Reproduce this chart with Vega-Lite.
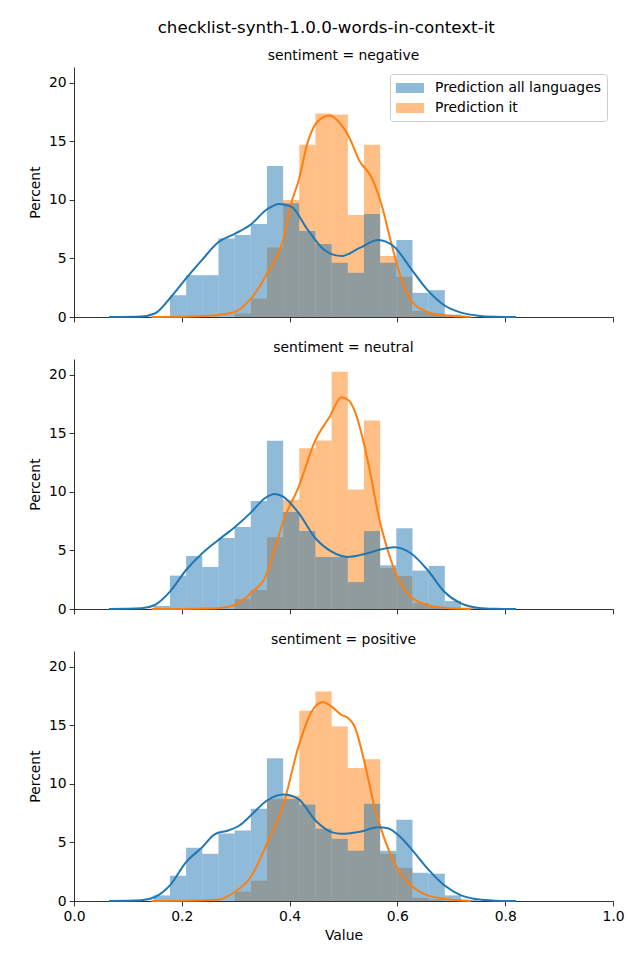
{
  "$schema": "https://vega.github.io/schema/vega-lite/v6.json",
  "padding": {"left": 28, "top": 20, "right": 26, "bottom": 10},
  "title": {"text": "checklist-synth-1.0.0-words-in-context-it", "font": "DejaVu Sans", "fontSize": 16.7, "fontWeight": "normal", "color": "#000", "anchor": "middle", "offset": 12},
  "spacing": 17,
  "resolve": {"legend": {"color": "independent"}},
  "config": {
    "view": {"stroke": null},
    "font": "DejaVu Sans",
    "axis": {"domainColor": "#000", "domainWidth": 0.8, "tickColor": "#000", "tickWidth": 0.8, "tickSize": 4.9, "labelFont": "DejaVu Sans", "labelFontSize": 13.9, "labelColor": "#000", "labelPadding": 3, "titleFont": "DejaVu Sans", "titleFontSize": 13.9, "titleFontWeight": "normal", "titleColor": "#000", "grid": false, "labelFlush": false},
    "title": {"font": "DejaVu Sans", "fontSize": 13.9, "fontWeight": "normal", "color": "#000", "offset": 4},
    "legend": {"orient": "top-right", "offset": 6.5, "symbolType": "M-1,-0.625H2.5V0.625H-1Z", "symbolSize": 256, "symbolOpacity": 0.5, "symbolStrokeWidth": 0, "labelFont": "DejaVu Sans", "labelFontSize": 13.9, "labelColor": "#000", "labelOffset": 23, "padding": 6, "rowPadding": 5, "fillColor": "rgba(255,255,255,0.8)", "strokeColor": "#cccccc", "cornerRadius": 3, "labelLimit": 400}
  },
  "datasets": {
    "hist": [
      {"sentiment": "negative", "series": "Prediction all languages", "bin_start": 0.178, "bin_end": 0.208, "percent": 1.86},
      {"sentiment": "negative", "series": "Prediction all languages", "bin_start": 0.208, "bin_end": 0.238, "percent": 3.57},
      {"sentiment": "negative", "series": "Prediction all languages", "bin_start": 0.238, "bin_end": 0.268, "percent": 3.57},
      {"sentiment": "negative", "series": "Prediction all languages", "bin_start": 0.268, "bin_end": 0.298, "percent": 6.71},
      {"sentiment": "negative", "series": "Prediction all languages", "bin_start": 0.298, "bin_end": 0.328, "percent": 7.0},
      {"sentiment": "negative", "series": "Prediction all languages", "bin_start": 0.328, "bin_end": 0.358, "percent": 7.94},
      {"sentiment": "negative", "series": "Prediction all languages", "bin_start": 0.358, "bin_end": 0.388, "percent": 12.9},
      {"sentiment": "negative", "series": "Prediction all languages", "bin_start": 0.388, "bin_end": 0.418, "percent": 9.71},
      {"sentiment": "negative", "series": "Prediction all languages", "bin_start": 0.418, "bin_end": 0.448, "percent": 7.34},
      {"sentiment": "negative", "series": "Prediction all languages", "bin_start": 0.448, "bin_end": 0.478, "percent": 6.23},
      {"sentiment": "negative", "series": "Prediction all languages", "bin_start": 0.478, "bin_end": 0.508, "percent": 4.63},
      {"sentiment": "negative", "series": "Prediction all languages", "bin_start": 0.508, "bin_end": 0.538, "percent": 3.77},
      {"sentiment": "negative", "series": "Prediction all languages", "bin_start": 0.538, "bin_end": 0.568, "percent": 8.8},
      {"sentiment": "negative", "series": "Prediction all languages", "bin_start": 0.568, "bin_end": 0.598, "percent": 4.63},
      {"sentiment": "negative", "series": "Prediction all languages", "bin_start": 0.598, "bin_end": 0.628, "percent": 6.57},
      {"sentiment": "negative", "series": "Prediction all languages", "bin_start": 0.628, "bin_end": 0.658, "percent": 2.06},
      {"sentiment": "negative", "series": "Prediction all languages", "bin_start": 0.658, "bin_end": 0.688, "percent": 2.29},
      {"sentiment": "negative", "series": "Prediction all languages", "bin_start": 0.688, "bin_end": 0.718, "percent": 0.2},
      {"sentiment": "negative", "series": "Prediction it", "bin_start": 0.298, "bin_end": 0.328, "percent": 0.3},
      {"sentiment": "negative", "series": "Prediction it", "bin_start": 0.328, "bin_end": 0.358, "percent": 1.57},
      {"sentiment": "negative", "series": "Prediction it", "bin_start": 0.358, "bin_end": 0.388, "percent": 5.94},
      {"sentiment": "negative", "series": "Prediction it", "bin_start": 0.388, "bin_end": 0.418, "percent": 10.0},
      {"sentiment": "negative", "series": "Prediction it", "bin_start": 0.418, "bin_end": 0.448, "percent": 14.7},
      {"sentiment": "negative", "series": "Prediction it", "bin_start": 0.448, "bin_end": 0.478, "percent": 17.37},
      {"sentiment": "negative", "series": "Prediction it", "bin_start": 0.478, "bin_end": 0.508, "percent": 17.29},
      {"sentiment": "negative", "series": "Prediction it", "bin_start": 0.508, "bin_end": 0.538, "percent": 8.71},
      {"sentiment": "negative", "series": "Prediction it", "bin_start": 0.538, "bin_end": 0.568, "percent": 14.7},
      {"sentiment": "negative", "series": "Prediction it", "bin_start": 0.568, "bin_end": 0.598, "percent": 5.2},
      {"sentiment": "negative", "series": "Prediction it", "bin_start": 0.598, "bin_end": 0.628, "percent": 3.43},
      {"sentiment": "negative", "series": "Prediction it", "bin_start": 0.628, "bin_end": 0.658, "percent": 0.51},
      {"sentiment": "negative", "series": "Prediction it", "bin_start": 0.658, "bin_end": 0.688, "percent": 0.29},
      {"sentiment": "neutral", "series": "Prediction all languages", "bin_start": 0.148, "bin_end": 0.178, "percent": 0.26},
      {"sentiment": "neutral", "series": "Prediction all languages", "bin_start": 0.178, "bin_end": 0.208, "percent": 2.85},
      {"sentiment": "neutral", "series": "Prediction all languages", "bin_start": 0.208, "bin_end": 0.238, "percent": 4.53},
      {"sentiment": "neutral", "series": "Prediction all languages", "bin_start": 0.238, "bin_end": 0.268, "percent": 3.59},
      {"sentiment": "neutral", "series": "Prediction all languages", "bin_start": 0.268, "bin_end": 0.298, "percent": 6.07},
      {"sentiment": "neutral", "series": "Prediction all languages", "bin_start": 0.298, "bin_end": 0.328, "percent": 7.0},
      {"sentiment": "neutral", "series": "Prediction all languages", "bin_start": 0.328, "bin_end": 0.358, "percent": 9.23},
      {"sentiment": "neutral", "series": "Prediction all languages", "bin_start": 0.358, "bin_end": 0.388, "percent": 14.36},
      {"sentiment": "neutral", "series": "Prediction all languages", "bin_start": 0.388, "bin_end": 0.418, "percent": 8.29},
      {"sentiment": "neutral", "series": "Prediction all languages", "bin_start": 0.418, "bin_end": 0.448, "percent": 6.67},
      {"sentiment": "neutral", "series": "Prediction all languages", "bin_start": 0.448, "bin_end": 0.478, "percent": 4.44},
      {"sentiment": "neutral", "series": "Prediction all languages", "bin_start": 0.478, "bin_end": 0.508, "percent": 4.44},
      {"sentiment": "neutral", "series": "Prediction all languages", "bin_start": 0.508, "bin_end": 0.538, "percent": 2.3},
      {"sentiment": "neutral", "series": "Prediction all languages", "bin_start": 0.538, "bin_end": 0.568, "percent": 6.67},
      {"sentiment": "neutral", "series": "Prediction all languages", "bin_start": 0.568, "bin_end": 0.598, "percent": 3.73},
      {"sentiment": "neutral", "series": "Prediction all languages", "bin_start": 0.598, "bin_end": 0.628, "percent": 6.9},
      {"sentiment": "neutral", "series": "Prediction all languages", "bin_start": 0.628, "bin_end": 0.658, "percent": 3.28},
      {"sentiment": "neutral", "series": "Prediction all languages", "bin_start": 0.658, "bin_end": 0.688, "percent": 3.68},
      {"sentiment": "neutral", "series": "Prediction all languages", "bin_start": 0.688, "bin_end": 0.718, "percent": 0.68},
      {"sentiment": "neutral", "series": "Prediction all languages", "bin_start": 0.718, "bin_end": 0.748, "percent": 0.1},
      {"sentiment": "neutral", "series": "Prediction it", "bin_start": 0.298, "bin_end": 0.328, "percent": 0.85},
      {"sentiment": "neutral", "series": "Prediction it", "bin_start": 0.328, "bin_end": 0.358, "percent": 1.62},
      {"sentiment": "neutral", "series": "Prediction it", "bin_start": 0.358, "bin_end": 0.388, "percent": 6.13},
      {"sentiment": "neutral", "series": "Prediction it", "bin_start": 0.388, "bin_end": 0.418, "percent": 9.32},
      {"sentiment": "neutral", "series": "Prediction it", "bin_start": 0.418, "bin_end": 0.448, "percent": 13.73},
      {"sentiment": "neutral", "series": "Prediction it", "bin_start": 0.448, "bin_end": 0.478, "percent": 14.39},
      {"sentiment": "neutral", "series": "Prediction it", "bin_start": 0.478, "bin_end": 0.508, "percent": 20.26},
      {"sentiment": "neutral", "series": "Prediction it", "bin_start": 0.508, "bin_end": 0.538, "percent": 10.2},
      {"sentiment": "neutral", "series": "Prediction it", "bin_start": 0.538, "bin_end": 0.568, "percent": 16.1},
      {"sentiment": "neutral", "series": "Prediction it", "bin_start": 0.568, "bin_end": 0.598, "percent": 3.5},
      {"sentiment": "neutral", "series": "Prediction it", "bin_start": 0.598, "bin_end": 0.628, "percent": 2.82},
      {"sentiment": "neutral", "series": "Prediction it", "bin_start": 0.628, "bin_end": 0.658, "percent": 0.5},
      {"sentiment": "neutral", "series": "Prediction it", "bin_start": 0.658, "bin_end": 0.688, "percent": 0.2},
      {"sentiment": "positive", "series": "Prediction all languages", "bin_start": 0.148, "bin_end": 0.178, "percent": 0.48},
      {"sentiment": "positive", "series": "Prediction all languages", "bin_start": 0.178, "bin_end": 0.208, "percent": 2.16},
      {"sentiment": "positive", "series": "Prediction all languages", "bin_start": 0.208, "bin_end": 0.238, "percent": 4.55},
      {"sentiment": "positive", "series": "Prediction all languages", "bin_start": 0.238, "bin_end": 0.268, "percent": 4.03},
      {"sentiment": "positive", "series": "Prediction all languages", "bin_start": 0.268, "bin_end": 0.298, "percent": 5.77},
      {"sentiment": "positive", "series": "Prediction all languages", "bin_start": 0.298, "bin_end": 0.328, "percent": 6.02},
      {"sentiment": "positive", "series": "Prediction all languages", "bin_start": 0.328, "bin_end": 0.358, "percent": 7.87},
      {"sentiment": "positive", "series": "Prediction all languages", "bin_start": 0.358, "bin_end": 0.388, "percent": 12.2},
      {"sentiment": "positive", "series": "Prediction all languages", "bin_start": 0.388, "bin_end": 0.418, "percent": 8.72},
      {"sentiment": "positive", "series": "Prediction all languages", "bin_start": 0.418, "bin_end": 0.448, "percent": 8.24},
      {"sentiment": "positive", "series": "Prediction all languages", "bin_start": 0.448, "bin_end": 0.478, "percent": 6.16},
      {"sentiment": "positive", "series": "Prediction all languages", "bin_start": 0.478, "bin_end": 0.508, "percent": 5.31},
      {"sentiment": "positive", "series": "Prediction all languages", "bin_start": 0.508, "bin_end": 0.538, "percent": 4.29},
      {"sentiment": "positive", "series": "Prediction all languages", "bin_start": 0.538, "bin_end": 0.568, "percent": 8.3},
      {"sentiment": "positive", "series": "Prediction all languages", "bin_start": 0.568, "bin_end": 0.598, "percent": 4.29},
      {"sentiment": "positive", "series": "Prediction all languages", "bin_start": 0.598, "bin_end": 0.628, "percent": 6.93},
      {"sentiment": "positive", "series": "Prediction all languages", "bin_start": 0.628, "bin_end": 0.658, "percent": 2.41},
      {"sentiment": "positive", "series": "Prediction all languages", "bin_start": 0.658, "bin_end": 0.688, "percent": 2.33},
      {"sentiment": "positive", "series": "Prediction all languages", "bin_start": 0.688, "bin_end": 0.718, "percent": 0.48},
      {"sentiment": "positive", "series": "Prediction all languages", "bin_start": 0.718, "bin_end": 0.748, "percent": 0.1},
      {"sentiment": "positive", "series": "Prediction it", "bin_start": 0.298, "bin_end": 0.328, "percent": 0.8},
      {"sentiment": "positive", "series": "Prediction it", "bin_start": 0.328, "bin_end": 0.358, "percent": 1.73},
      {"sentiment": "positive", "series": "Prediction it", "bin_start": 0.358, "bin_end": 0.388, "percent": 8.72},
      {"sentiment": "positive", "series": "Prediction it", "bin_start": 0.388, "bin_end": 0.418, "percent": 9.0},
      {"sentiment": "positive", "series": "Prediction it", "bin_start": 0.418, "bin_end": 0.448, "percent": 16.25},
      {"sentiment": "positive", "series": "Prediction it", "bin_start": 0.448, "bin_end": 0.478, "percent": 17.9},
      {"sentiment": "positive", "series": "Prediction it", "bin_start": 0.478, "bin_end": 0.508, "percent": 14.9},
      {"sentiment": "positive", "series": "Prediction it", "bin_start": 0.508, "bin_end": 0.538, "percent": 11.36},
      {"sentiment": "positive", "series": "Prediction it", "bin_start": 0.538, "bin_end": 0.568, "percent": 12.1},
      {"sentiment": "positive", "series": "Prediction it", "bin_start": 0.568, "bin_end": 0.598, "percent": 4.03},
      {"sentiment": "positive", "series": "Prediction it", "bin_start": 0.598, "bin_end": 0.628, "percent": 2.84},
      {"sentiment": "positive", "series": "Prediction it", "bin_start": 0.628, "bin_end": 0.658, "percent": 0.28},
      {"sentiment": "positive", "series": "Prediction it", "bin_start": 0.658, "bin_end": 0.688, "percent": 0.14}
    ],
    "kde": [
      {"sentiment": "negative", "series": "all", "x": 0.065, "y": 0}, {"sentiment": "negative", "series": "all", "x": 0.125, "y": 0.05}, {"sentiment": "negative", "series": "all", "x": 0.15, "y": 0.3}, {"sentiment": "negative", "series": "all", "x": 0.178, "y": 1.6}, {"sentiment": "negative", "series": "all", "x": 0.208, "y": 3.3}, {"sentiment": "negative", "series": "all", "x": 0.238, "y": 4.9}, {"sentiment": "negative", "series": "all", "x": 0.268, "y": 6.4}, {"sentiment": "negative", "series": "all", "x": 0.298, "y": 7.1}, {"sentiment": "negative", "series": "all", "x": 0.328, "y": 7.9}, {"sentiment": "negative", "series": "all", "x": 0.358, "y": 9.2}, {"sentiment": "negative", "series": "all", "x": 0.381, "y": 9.66}, {"sentiment": "negative", "series": "all", "x": 0.403, "y": 9.43}, {"sentiment": "negative", "series": "all", "x": 0.434, "y": 7.43}, {"sentiment": "negative", "series": "all", "x": 0.465, "y": 5.7}, {"sentiment": "negative", "series": "all", "x": 0.496, "y": 5.2}, {"sentiment": "negative", "series": "all", "x": 0.53, "y": 5.9}, {"sentiment": "negative", "series": "all", "x": 0.564, "y": 6.57}, {"sentiment": "negative", "series": "all", "x": 0.594, "y": 6.0}, {"sentiment": "negative", "series": "all", "x": 0.625, "y": 4.14}, {"sentiment": "negative", "series": "all", "x": 0.656, "y": 2.29}, {"sentiment": "negative", "series": "all", "x": 0.687, "y": 1.0}, {"sentiment": "negative", "series": "all", "x": 0.718, "y": 0.37}, {"sentiment": "negative", "series": "all", "x": 0.749, "y": 0.11}, {"sentiment": "negative", "series": "all", "x": 0.78, "y": 0.02}, {"sentiment": "negative", "series": "all", "x": 0.82, "y": 0},
      {"sentiment": "negative", "series": "it", "x": 0.144, "y": 0}, {"sentiment": "negative", "series": "it", "x": 0.2, "y": 0.02}, {"sentiment": "negative", "series": "it", "x": 0.249, "y": 0.1}, {"sentiment": "negative", "series": "it", "x": 0.298, "y": 0.43}, {"sentiment": "negative", "series": "it", "x": 0.328, "y": 1.57}, {"sentiment": "negative", "series": "it", "x": 0.358, "y": 3.7}, {"sentiment": "negative", "series": "it", "x": 0.388, "y": 6.57}, {"sentiment": "negative", "series": "it", "x": 0.403, "y": 9.7}, {"sentiment": "negative", "series": "it", "x": 0.417, "y": 11.7}, {"sentiment": "negative", "series": "it", "x": 0.434, "y": 15.0}, {"sentiment": "negative", "series": "it", "x": 0.452, "y": 16.7}, {"sentiment": "negative", "series": "it", "x": 0.474, "y": 17.2}, {"sentiment": "negative", "series": "it", "x": 0.496, "y": 16.4}, {"sentiment": "negative", "series": "it", "x": 0.51, "y": 15.4}, {"sentiment": "negative", "series": "it", "x": 0.53, "y": 13.3}, {"sentiment": "negative", "series": "it", "x": 0.551, "y": 12.0}, {"sentiment": "negative", "series": "it", "x": 0.57, "y": 9.7}, {"sentiment": "negative", "series": "it", "x": 0.588, "y": 6.43}, {"sentiment": "negative", "series": "it", "x": 0.606, "y": 3.43}, {"sentiment": "negative", "series": "it", "x": 0.625, "y": 1.43}, {"sentiment": "negative", "series": "it", "x": 0.656, "y": 0.43}, {"sentiment": "negative", "series": "it", "x": 0.687, "y": 0.14}, {"sentiment": "negative", "series": "it", "x": 0.736, "y": 0},
      {"sentiment": "neutral", "series": "all", "x": 0.065, "y": 0}, {"sentiment": "neutral", "series": "all", "x": 0.125, "y": 0.06}, {"sentiment": "neutral", "series": "all", "x": 0.15, "y": 0.34}, {"sentiment": "neutral", "series": "all", "x": 0.178, "y": 1.48}, {"sentiment": "neutral", "series": "all", "x": 0.208, "y": 3.33}, {"sentiment": "neutral", "series": "all", "x": 0.238, "y": 4.76}, {"sentiment": "neutral", "series": "all", "x": 0.268, "y": 5.9}, {"sentiment": "neutral", "series": "all", "x": 0.298, "y": 6.98}, {"sentiment": "neutral", "series": "all", "x": 0.328, "y": 8.23}, {"sentiment": "neutral", "series": "all", "x": 0.354, "y": 9.46}, {"sentiment": "neutral", "series": "all", "x": 0.372, "y": 9.83}, {"sentiment": "neutral", "series": "all", "x": 0.388, "y": 9.6}, {"sentiment": "neutral", "series": "all", "x": 0.417, "y": 8.18}, {"sentiment": "neutral", "series": "all", "x": 0.448, "y": 6.04}, {"sentiment": "neutral", "series": "all", "x": 0.478, "y": 4.9}, {"sentiment": "neutral", "series": "all", "x": 0.508, "y": 4.45}, {"sentiment": "neutral", "series": "all", "x": 0.539, "y": 4.7}, {"sentiment": "neutral", "series": "all", "x": 0.57, "y": 5.1}, {"sentiment": "neutral", "series": "all", "x": 0.594, "y": 5.27}, {"sentiment": "neutral", "series": "all", "x": 0.625, "y": 4.76}, {"sentiment": "neutral", "series": "all", "x": 0.656, "y": 3.33}, {"sentiment": "neutral", "series": "all", "x": 0.687, "y": 1.48}, {"sentiment": "neutral", "series": "all", "x": 0.718, "y": 0.48}, {"sentiment": "neutral", "series": "all", "x": 0.749, "y": 0.11}, {"sentiment": "neutral", "series": "all", "x": 0.78, "y": 0.02}, {"sentiment": "neutral", "series": "all", "x": 0.82, "y": 0},
      {"sentiment": "neutral", "series": "it", "x": 0.144, "y": 0}, {"sentiment": "neutral", "series": "it", "x": 0.2, "y": 0.01}, {"sentiment": "neutral", "series": "it", "x": 0.267, "y": 0.06}, {"sentiment": "neutral", "series": "it", "x": 0.298, "y": 0.34}, {"sentiment": "neutral", "series": "it", "x": 0.328, "y": 1.34}, {"sentiment": "neutral", "series": "it", "x": 0.358, "y": 3.05}, {"sentiment": "neutral", "series": "it", "x": 0.372, "y": 5.04}, {"sentiment": "neutral", "series": "it", "x": 0.388, "y": 7.46}, {"sentiment": "neutral", "series": "it", "x": 0.417, "y": 10.46}, {"sentiment": "neutral", "series": "it", "x": 0.448, "y": 14.44}, {"sentiment": "neutral", "series": "it", "x": 0.474, "y": 16.4}, {"sentiment": "neutral", "series": "it", "x": 0.496, "y": 18.09}, {"sentiment": "neutral", "series": "it", "x": 0.51, "y": 17.8}, {"sentiment": "neutral", "series": "it", "x": 0.52, "y": 17.0}, {"sentiment": "neutral", "series": "it", "x": 0.539, "y": 13.9}, {"sentiment": "neutral", "series": "it", "x": 0.551, "y": 11.3}, {"sentiment": "neutral", "series": "it", "x": 0.564, "y": 8.18}, {"sentiment": "neutral", "series": "it", "x": 0.582, "y": 5.04}, {"sentiment": "neutral", "series": "it", "x": 0.597, "y": 3.05}, {"sentiment": "neutral", "series": "it", "x": 0.625, "y": 1.05}, {"sentiment": "neutral", "series": "it", "x": 0.656, "y": 0.34}, {"sentiment": "neutral", "series": "it", "x": 0.687, "y": 0.11}, {"sentiment": "neutral", "series": "it", "x": 0.736, "y": 0},
      {"sentiment": "positive", "series": "all", "x": 0.065, "y": 0}, {"sentiment": "positive", "series": "all", "x": 0.125, "y": 0.06}, {"sentiment": "positive", "series": "all", "x": 0.15, "y": 0.34}, {"sentiment": "positive", "series": "all", "x": 0.178, "y": 1.34}, {"sentiment": "positive", "series": "all", "x": 0.208, "y": 3.32}, {"sentiment": "positive", "series": "all", "x": 0.238, "y": 4.6}, {"sentiment": "positive", "series": "all", "x": 0.261, "y": 5.7}, {"sentiment": "positive", "series": "all", "x": 0.286, "y": 6.02}, {"sentiment": "positive", "series": "all", "x": 0.307, "y": 6.45}, {"sentiment": "positive", "series": "all", "x": 0.328, "y": 7.3}, {"sentiment": "positive", "series": "all", "x": 0.358, "y": 8.58}, {"sentiment": "positive", "series": "all", "x": 0.388, "y": 9.09}, {"sentiment": "positive", "series": "all", "x": 0.416, "y": 8.72}, {"sentiment": "positive", "series": "all", "x": 0.448, "y": 6.88}, {"sentiment": "positive", "series": "all", "x": 0.478, "y": 5.88}, {"sentiment": "positive", "series": "all", "x": 0.496, "y": 5.74}, {"sentiment": "positive", "series": "all", "x": 0.533, "y": 5.94}, {"sentiment": "positive", "series": "all", "x": 0.564, "y": 6.3}, {"sentiment": "positive", "series": "all", "x": 0.582, "y": 6.22}, {"sentiment": "positive", "series": "all", "x": 0.606, "y": 5.45}, {"sentiment": "positive", "series": "all", "x": 0.628, "y": 4.32}, {"sentiment": "positive", "series": "all", "x": 0.656, "y": 2.76}, {"sentiment": "positive", "series": "all", "x": 0.687, "y": 1.34}, {"sentiment": "positive", "series": "all", "x": 0.718, "y": 0.48}, {"sentiment": "positive", "series": "all", "x": 0.749, "y": 0.14}, {"sentiment": "positive", "series": "all", "x": 0.78, "y": 0.03}, {"sentiment": "positive", "series": "all", "x": 0.82, "y": 0},
      {"sentiment": "positive", "series": "it", "x": 0.144, "y": 0}, {"sentiment": "positive", "series": "it", "x": 0.2, "y": 0.02}, {"sentiment": "positive", "series": "it", "x": 0.267, "y": 0.11}, {"sentiment": "positive", "series": "it", "x": 0.298, "y": 0.77}, {"sentiment": "positive", "series": "it", "x": 0.328, "y": 2.05}, {"sentiment": "positive", "series": "it", "x": 0.358, "y": 4.89}, {"sentiment": "positive", "series": "it", "x": 0.388, "y": 8.15}, {"sentiment": "positive", "series": "it", "x": 0.417, "y": 13.27}, {"sentiment": "positive", "series": "it", "x": 0.44, "y": 16.1}, {"sentiment": "positive", "series": "it", "x": 0.462, "y": 17.0}, {"sentiment": "positive", "series": "it", "x": 0.478, "y": 16.6}, {"sentiment": "positive", "series": "it", "x": 0.496, "y": 15.9}, {"sentiment": "positive", "series": "it", "x": 0.508, "y": 15.65}, {"sentiment": "positive", "series": "it", "x": 0.52, "y": 14.97}, {"sentiment": "positive", "series": "it", "x": 0.539, "y": 11.85}, {"sentiment": "positive", "series": "it", "x": 0.557, "y": 8.15}, {"sentiment": "positive", "series": "it", "x": 0.576, "y": 5.3}, {"sentiment": "positive", "series": "it", "x": 0.594, "y": 3.3}, {"sentiment": "positive", "series": "it", "x": 0.625, "y": 1.34}, {"sentiment": "positive", "series": "it", "x": 0.656, "y": 0.48}, {"sentiment": "positive", "series": "it", "x": 0.687, "y": 0.2}, {"sentiment": "positive", "series": "it", "x": 0.736, "y": 0}
    ]
  },
  "vconcat": [
    {
      "width": 539, "height": 250,
      "title": {"text": "sentiment = negative"},
      "layer": [
        {"data": {"name": "hist"}, "transform": [{"filter": "datum.sentiment === 'negative' && datum.series === 'Prediction it'"}],
         "mark": {"type": "rect", "opacity": 0.5, "strokeWidth": 0},
         "encoding": {
           "x": {"field": "bin_start", "type": "quantitative", "scale": {"domain": [0, 1], "nice": false, "zero": false}, "axis": {"values": [0, 0.2, 0.4, 0.6, 0.8, 1], "labels": false, "title": null}},
           "x2": {"field": "bin_end"},
           "y": {"field": "percent", "type": "quantitative", "scale": {"domain": [0, 21.35], "nice": false}, "axis": {"values": [0, 5, 10, 15, 20], "title": "Percent", "titlePadding": 6}},
           "y2": {"datum": 0},
           "color": {"field": "series", "type": "nominal", "scale": {"domain": ["Prediction all languages", "Prediction it"], "range": ["#1f77b4", "#ff7f0e"]}, "legend": {"title": null}}
         }},
        {"data": {"name": "hist"}, "transform": [{"filter": "datum.sentiment === 'negative' && datum.series === 'Prediction all languages'"}],
         "mark": {"type": "rect", "opacity": 0.5, "strokeWidth": 0},
         "encoding": {
           "x": {"field": "bin_start", "type": "quantitative"},
           "x2": {"field": "bin_end"},
           "y": {"field": "percent", "type": "quantitative"},
           "y2": {"datum": 0},
           "color": {"field": "series", "type": "nominal"}
         }},
        {"data": {"name": "kde"}, "transform": [{"filter": "datum.sentiment === 'negative' && datum.series === 'it'"}],
         "mark": {"type": "line", "color": "#ff7f0e", "strokeWidth": 2, "interpolate": "monotone"},
         "encoding": {"x": {"field": "x", "type": "quantitative"}, "y": {"field": "y", "type": "quantitative"}}},
        {"data": {"name": "kde"}, "transform": [{"filter": "datum.sentiment === 'negative' && datum.series === 'all'"}],
         "mark": {"type": "line", "color": "#1f77b4", "strokeWidth": 2, "interpolate": "monotone"},
         "encoding": {"x": {"field": "x", "type": "quantitative"}, "y": {"field": "y", "type": "quantitative"}}}
      ]
    },
    {
      "width": 539, "height": 250,
      "title": {"text": "sentiment = neutral"},
      "layer": [
        {"data": {"name": "hist"}, "transform": [{"filter": "datum.sentiment === 'neutral' && datum.series === 'Prediction it'"}],
         "mark": {"type": "rect", "opacity": 0.5, "strokeWidth": 0},
         "encoding": {
           "x": {"field": "bin_start", "type": "quantitative", "scale": {"domain": [0, 1], "nice": false, "zero": false}, "axis": {"values": [0, 0.2, 0.4, 0.6, 0.8, 1], "labels": false, "title": null}},
           "x2": {"field": "bin_end"},
           "y": {"field": "percent", "type": "quantitative", "scale": {"domain": [0, 21.35], "nice": false}, "axis": {"values": [0, 5, 10, 15, 20], "title": "Percent", "titlePadding": 6}},
           "y2": {"datum": 0},
           "color": {"field": "series", "type": "nominal", "scale": {"domain": ["Prediction all languages", "Prediction it"], "range": ["#1f77b4", "#ff7f0e"]}, "legend": null}
         }},
        {"data": {"name": "hist"}, "transform": [{"filter": "datum.sentiment === 'neutral' && datum.series === 'Prediction all languages'"}],
         "mark": {"type": "rect", "opacity": 0.5, "strokeWidth": 0},
         "encoding": {
           "x": {"field": "bin_start", "type": "quantitative"},
           "x2": {"field": "bin_end"},
           "y": {"field": "percent", "type": "quantitative"},
           "y2": {"datum": 0},
           "color": {"field": "series", "type": "nominal", "legend": null}
         }},
        {"data": {"name": "kde"}, "transform": [{"filter": "datum.sentiment === 'neutral' && datum.series === 'it'"}],
         "mark": {"type": "line", "color": "#ff7f0e", "strokeWidth": 2, "interpolate": "monotone"},
         "encoding": {"x": {"field": "x", "type": "quantitative"}, "y": {"field": "y", "type": "quantitative"}}},
        {"data": {"name": "kde"}, "transform": [{"filter": "datum.sentiment === 'neutral' && datum.series === 'all'"}],
         "mark": {"type": "line", "color": "#1f77b4", "strokeWidth": 2, "interpolate": "monotone"},
         "encoding": {"x": {"field": "x", "type": "quantitative"}, "y": {"field": "y", "type": "quantitative"}}}
      ]
    },
    {
      "width": 539, "height": 250,
      "title": {"text": "sentiment = positive"},
      "layer": [
        {"data": {"name": "hist"}, "transform": [{"filter": "datum.sentiment === 'positive' && datum.series === 'Prediction it'"}],
         "mark": {"type": "rect", "opacity": 0.5, "strokeWidth": 0},
         "encoding": {
           "x": {"field": "bin_start", "type": "quantitative", "scale": {"domain": [0, 1], "nice": false, "zero": false}, "axis": {"values": [0, 0.2, 0.4, 0.6, 0.8, 1], "format": ".1f", "title": "Value", "labelPadding": 4, "titlePadding": 5}},
           "x2": {"field": "bin_end"},
           "y": {"field": "percent", "type": "quantitative", "scale": {"domain": [0, 21.35], "nice": false}, "axis": {"values": [0, 5, 10, 15, 20], "title": "Percent", "titlePadding": 6}},
           "y2": {"datum": 0},
           "color": {"field": "series", "type": "nominal", "scale": {"domain": ["Prediction all languages", "Prediction it"], "range": ["#1f77b4", "#ff7f0e"]}, "legend": null}
         }},
        {"data": {"name": "hist"}, "transform": [{"filter": "datum.sentiment === 'positive' && datum.series === 'Prediction all languages'"}],
         "mark": {"type": "rect", "opacity": 0.5, "strokeWidth": 0},
         "encoding": {
           "x": {"field": "bin_start", "type": "quantitative"},
           "x2": {"field": "bin_end"},
           "y": {"field": "percent", "type": "quantitative"},
           "y2": {"datum": 0},
           "color": {"field": "series", "type": "nominal", "legend": null}
         }},
        {"data": {"name": "kde"}, "transform": [{"filter": "datum.sentiment === 'positive' && datum.series === 'it'"}],
         "mark": {"type": "line", "color": "#ff7f0e", "strokeWidth": 2, "interpolate": "monotone"},
         "encoding": {"x": {"field": "x", "type": "quantitative"}, "y": {"field": "y", "type": "quantitative"}}},
        {"data": {"name": "kde"}, "transform": [{"filter": "datum.sentiment === 'positive' && datum.series === 'all'"}],
         "mark": {"type": "line", "color": "#1f77b4", "strokeWidth": 2, "interpolate": "monotone"},
         "encoding": {"x": {"field": "x", "type": "quantitative"}, "y": {"field": "y", "type": "quantitative"}}}
      ]
    }
  ]
}
